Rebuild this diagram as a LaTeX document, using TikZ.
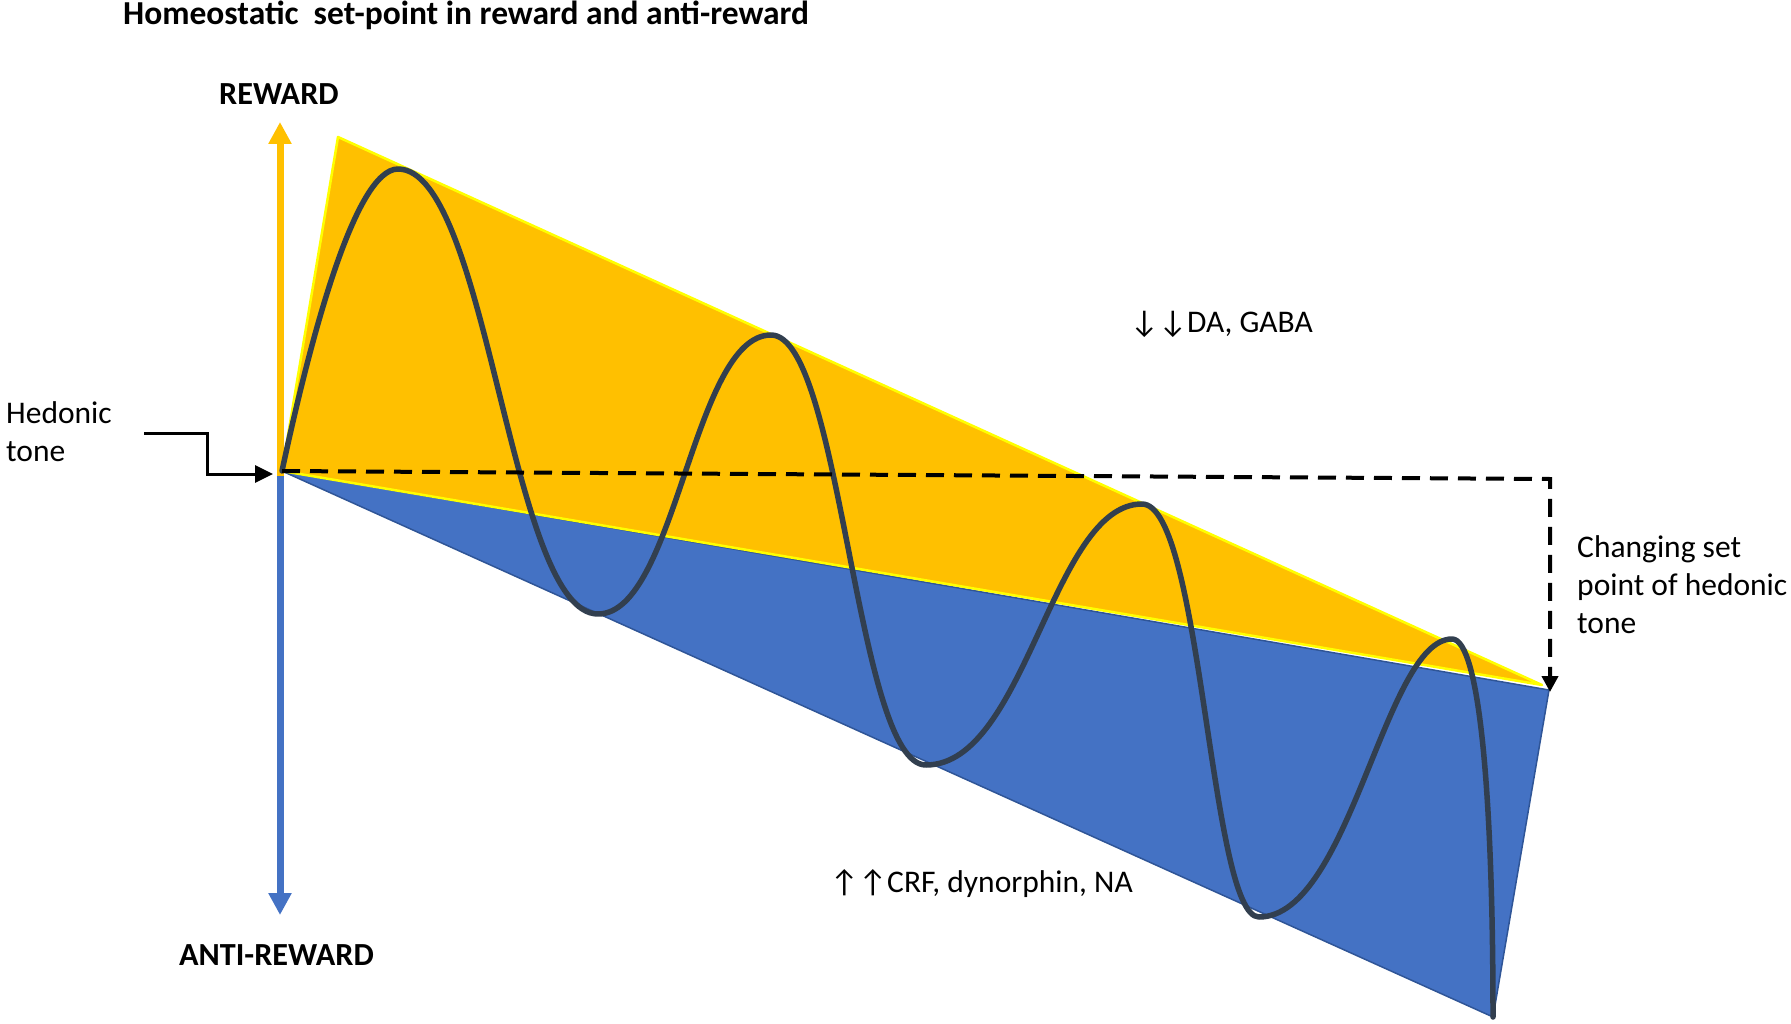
\documentclass[tikz,border=0pt]{standalone}
\usepackage{fontspec}
\setmainfont{Carlito}
\newfontfamily\arrowfont{DejaVu Sans}
\usetikzlibrary{arrows.meta}
\definecolor{gold}{HTML}{FFC000}
\definecolor{brightyellow}{HTML}{FFFF00}
\definecolor{midblue}{HTML}{4472C4}
\definecolor{edgeblue}{HTML}{2F5597}
\definecolor{navy}{HTML}{323F4F}
\begin{document}
\begin{tikzpicture}[x=1pt,y=-1pt,
  lbl/.style={inner sep=0pt, anchor=base west, font=\fontsize{31.5}{38}\selectfont, align=left},
  boldlbl/.style={inner sep=0pt, anchor=base west, font=\fontsize{32.2}{38}\selectfont\bfseries},
  axisarrow/.style={line width=7pt, -{Triangle[length=22pt,width=22pt]}},
  wave/.style={navy, line width=5.5pt, line cap=round, line join=round}]
\useasboundingbox (0,0) rectangle (1791,1024);
% key points
\coordinate (O) at (282,471);
\coordinate (Ytop) at (338,137);
\coordinate (Yright) at (1542,685);
\coordinate (Bright) at (1549,690);
\coordinate (Bbot) at (1493,1017);
\coordinate (Axis) at (280,476);
\coordinate (Rtip) at (280,122);
\coordinate (Atip) at (280,915);
% areas
\filldraw[fill=midblue, draw=edgeblue, line width=1.5pt, line join=round] (O) -- (Bright) -- (Bbot) -- cycle;
\filldraw[fill=gold, draw=brightyellow, line width=2.5pt, line join=round] (O) -- (Ytop) -- (Yright) -- cycle;
% axes
\draw[axisarrow, gold] (Axis) -- (Rtip);
\draw[axisarrow, midblue] (Axis) -- (Atip);
% wave
\coordinate (P1) at (398,169);
\coordinate (T1) at (598,614);
\coordinate (P2) at (771,335);
\coordinate (T2) at (926,765);
\coordinate (P3) at (1142,504);
\coordinate (T3) at (1259,917);
\coordinate (P4) at (1452,639);
\draw[wave] (O) .. controls (310,340) and (355,169) .. (P1)
  .. controls (488,169) and (510,614) .. (T1)
  .. controls (676,614) and (693,335) .. (P2)
  .. controls (841,335) and (856,765) .. (T2)
  .. controls (1026,765) and (1052,504) .. (P3)
  .. controls (1202,504) and (1210,917) .. (T3)
  .. controls (1350,917) and (1385,639) .. (P4)
  .. controls (1480,639) and (1493,800) .. (Bbot);
% set point dashed line
\coordinate (DR) at (1550,479);
\coordinate (Dtip) at (1550,692);
\draw[line width=4pt, dash pattern=on 18pt off 10pt, -{Triangle[length=16pt,width=16pt]}] (O) -- (DR) -- (Dtip);
% hedonic tone pointer
\coordinate (H1) at (144,433);
\coordinate (H2) at (207,474);
\coordinate (H3) at (273,474);
\draw[line width=3pt, -{Triangle[length=18pt,width=17pt]}] (H1) -| (H2) -- (H3);
% labels
\node[boldlbl, font=\fontsize{33.5}{38}\selectfont\bfseries] (title) at (123,25) {Homeostatic\ \ set-point in reward and anti-reward};
\node[boldlbl] (rew) at (219,105) {REWARD};
\node[boldlbl] (anti) at (179,965) {ANTI-REWARD};
\node[lbl] (hed) at (6,461) {Hedonic\\tone};
\node[lbl] (chg) at (1577,633) {Changing set\\point of hedonic\\tone};
\node[lbl] (da) at (1130,332) {↓↓DA, GABA};
\node[lbl] (crf) at (830,892) {↑↑CRF, dynorphin, NA};
\end{tikzpicture}
\end{document}
